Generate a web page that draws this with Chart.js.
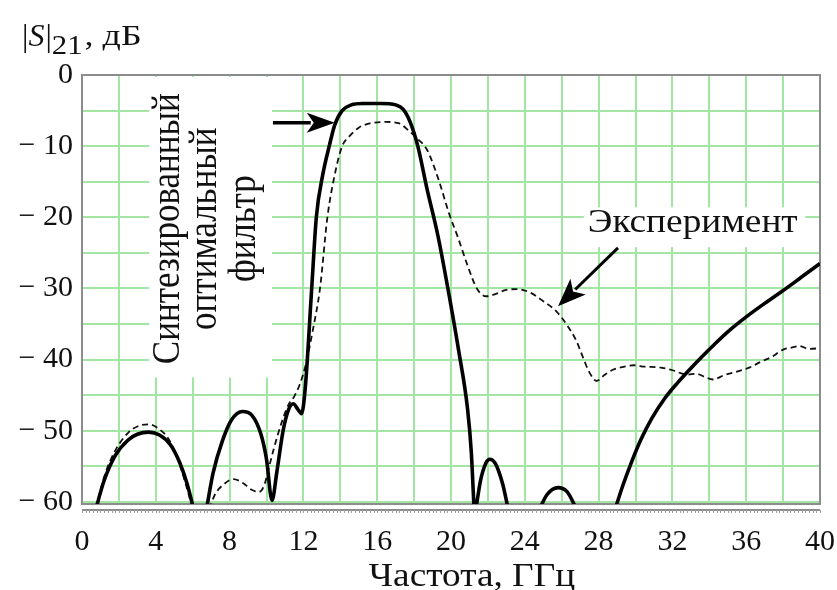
<!DOCTYPE html>
<html>
<head>
<meta charset="utf-8">
<script src="https://cdn.jsdelivr.net/npm/chart.js@4.4.1/dist/chart.umd.min.js"></script>
<style>
  body { margin: 0; background: #fff; }
  canvas { display: block; }
</style>
</head>
<body>
<canvas id="grafica" width="837" height="590"></canvas>
<script>
// синтезированный фильтр (сплошная)
const frecSint = [0.75, 1.2, 1.8, 2.5, 3.0, 3.6, 4.2, 4.8, 5.3, 5.7, 6.05, 6.4,
  6.75, 7.1, 7.6, 8.1, 8.7, 9.2, 9.7, 10.0, 10.3, 10.55, 10.9, 11.2, 11.45, 11.7, 11.9,
  12.1, 12.45, 12.7, 13.05, 13.4, 13.7, 14.1, 14.6, 15.2, 16.2, 17.0, 17.4, 17.8,
  18.2, 18.7, 19.3, 19.9, 20.4, 20.9, 21.1, 21.25, 21.3,
  21.35, 21.6, 21.9, 22.1, 22.4, 22.8, 23.1, 24.0,
  24.8, 25.2, 25.8, 26.3, 26.8, 27.8,
  28.9, 29.3, 29.8, 30.3, 30.9, 31.6, 32.3, 32.9, 33.6, 34.3, 35.0, 36.0, 37.0, 38.0, 39.0, 40.0];
const valSint = [-61, -57, -53.5, -51.3, -50.5, -50.2, -50.6, -52, -54.5, -57.5, -61, null,
  -61, -56, -51.5, -48.5, -47.3, -47.8, -50.5, -54, -59.8, -56, -50, -47, -46.2, -47, -47.6,
  -44, -30, -20, -14, -10, -7, -5, -4.2, -4.0, -4.0, -4.2, -4.8, -6.7,
  -10, -16, -22.7, -31, -38.5, -47, -53, -61, null,
  -61, -57, -54.5, -54, -54.6, -57.5, -61, null,
  -61, -59, -58, -58.6, -61, null,
  -61, -57.8, -54.3, -51.2, -48.2, -45.4, -43.2, -41.5, -39.6, -37.8, -36.1, -34, -32.1, -30.3, -28.4, -26.5];

// эксперимент (пунктир)
const frecExp = [0.75, 1.2, 1.8, 2.5, 3.0, 3.6, 4.2, 4.7, 5.2, 5.6, 6.0, 6.5,
  6.9, 7.2, 7.7, 8.2, 8.7, 9.2, 9.6, 9.9, 10.1, 10.4, 10.8, 11.2, 11.5, 11.8, 12.1,
  12.5, 12.9, 13.3, 13.7, 14.1, 14.5, 15.0, 15.6, 16.5, 17.2, 17.7, 18.2, 18.7, 19.3,
  19.9, 20.4, 20.9, 21.4, 21.9, 22.4, 23.0, 23.6, 24.3, 25.0, 25.7, 26.3, 26.8, 27.2,
  27.5, 27.9, 28.3, 28.8, 29.4, 29.9, 30.5, 31.3, 32.0, 32.8, 33.3, 33.8, 34.2, 34.8,
  35.5, 36.2, 36.8, 37.4, 38.0, 38.5, 38.9, 39.4, 40.0];
const valExp = [-61, -56.5, -52.8, -50.3, -49.4, -49.1, -49.8, -51.2, -54, -57.3, -61, null,
  -61, -59, -57.5, -56.8, -57.3, -58.3, -58.6, -57.5, -55.5, -52.5, -49, -46.3, -45.2, -43.5, -41,
  -36, -30, -20, -14, -10, -8.6, -7.4, -6.8, -6.6, -6.8, -7.8, -9, -10.5, -14.5,
  -19.5, -23, -26.8, -30, -31.1, -30.8, -30.2, -30.1, -30.6, -31.8, -33.2, -35.2, -37.4, -40,
  -41.8, -43, -42.2, -41.4, -41, -40.8, -41, -41.1, -41.5, -42.1, -42, -42.5, -42.8, -42.2,
  -41.7, -41.1, -40.3, -39.6, -38.6, -38.3, -38.1, -38.5, -38.4];

const ticksX = [0, 2, 4, 6, 8, 10, 12, 14, 16, 18, 20, 22, 24, 26, 28, 30, 32, 34, 36, 38, 40];
const ticksY = [0, -5, -10, -15, -20, -25, -30, -35, -40, -45, -50, -55, -60];

const fuente = "'Liberation Serif', 'Times New Roman', serif";

function puntos(fs, vs) {
  return fs.map((f, i) => ({ x: f, y: vs[i] }));
}

function flecha(ctx, x1, y1, x2, y2, largo, ancho) {
  const ang = Math.atan2(y2 - y1, x2 - x1);
  const bx = x2 - largo * Math.cos(ang);
  const by = y2 - largo * Math.sin(ang);
  ctx.beginPath();
  ctx.moveTo(x1, y1);
  ctx.lineTo(bx + 4 * Math.cos(ang), by + 4 * Math.sin(ang));
  ctx.stroke();
  ctx.beginPath();
  ctx.moveTo(x2, y2);
  ctx.lineTo(bx + ancho * Math.sin(ang), by - ancho * Math.cos(ang));
  ctx.lineTo(bx + largo * 0.25 * Math.cos(ang), by + largo * 0.25 * Math.sin(ang));
  ctx.lineTo(bx - ancho * Math.sin(ang), by + ancho * Math.cos(ang));
  ctx.closePath();
  ctx.fill();
}

// текст, растянутый по горизонтали
function texto(ctx, t, x, y, sx) {
  ctx.save();
  ctx.translate(x, y);
  ctx.scale(sx, 1);
  ctx.fillText(t, 0, 0);
  ctx.restore();
}

const anotaciones = {
  id: "anotaciones",
  beforeDatasetsDraw(chart) {
    const { ctx, chartArea: a, scales: { x, y } } = chart;
    ctx.save();
    // белые подложки под подписи
    ctx.fillStyle = "#fff";
    ctx.fillRect(x.getPixelForValue(3.65), a.top + 2, x.getPixelForValue(10.3) - x.getPixelForValue(3.65), y.getPixelForValue(-42.5) - a.top - 2);
    ctx.fillRect(x.getPixelForValue(27.2), y.getPixelForValue(-18.6), x.getPixelForValue(39.2) - x.getPixelForValue(27.2), y.getPixelForValue(-24.2) - y.getPixelForValue(-18.6));

    // рамка
    ctx.strokeStyle = "#8c8c8c";
    ctx.lineWidth = 2;
    ctx.strokeRect(a.left, a.top, a.right - a.left, a.bottom - a.top);
    // нижняя шкала с мелкими делениями
    ctx.beginPath();
    ctx.moveTo(a.left, a.bottom + 6);
    ctx.lineTo(a.right, a.bottom + 6);
    ctx.stroke();
    ctx.lineWidth = 1;
    ctx.strokeStyle = "#a0a0a0";
    ctx.beginPath();
    for (let f = 0; f <= 40.001; f += 0.2) {
      const px = Math.round(x.getPixelForValue(f)) + 0.5;
      ctx.moveTo(px, a.bottom + 6);
      ctx.lineTo(px, a.bottom + 9);
    }
    ctx.stroke();

    // вертикальная подпись
    ctx.fillStyle = "#111";
    ctx.font = "35px " + fuente;
    ctx.textAlign = "center";
    ctx.textBaseline = "middle";
    const cx = x.getPixelForValue(6.68);
    const cy = y.getPixelForValue(-21.6);
    ctx.translate(cx, cy);
    ctx.rotate(-Math.PI / 2);
    ctx.scale(1, 1.12);
    ctx.fillText("Синтезированный", 0, -33);
    ctx.fillText("оптимальный", 0, 0);
    ctx.fillText("фильтр", 0, 35);
    ctx.restore();

    ctx.save();
    ctx.fillStyle = "#111";
    ctx.font = "33px " + fuente;
    ctx.textAlign = "center";
    ctx.textBaseline = "middle";
    texto(ctx, "Эксперимент", x.getPixelForValue(33.1), y.getPixelForValue(-20.9), 1.13);
    ctx.restore();
  },
  afterDatasetsDraw(chart) {
    const { ctx, scales: { x, y } } = chart;
    ctx.save();
    ctx.strokeStyle = "#000";
    ctx.fillStyle = "#000";
    ctx.lineWidth = 3.5;
    flecha(ctx, x.getPixelForValue(10.35), y.getPixelForValue(-6.7), x.getPixelForValue(13.7), y.getPixelForValue(-6.7), 28, 10);
    ctx.lineWidth = 3;
    flecha(ctx, x.getPixelForValue(29.05), y.getPixelForValue(-24.3), x.getPixelForValue(25.8), y.getPixelForValue(-32.5), 28, 11);
    ctx.restore();
  },
  afterDraw(chart) {
    const { ctx } = chart;
    ctx.save();
    ctx.fillStyle = "#111";
    ctx.textBaseline = "alphabetic";
    ctx.textAlign = "left";
    // |S|21, дБ
    let px = 22;
    ctx.font = "32px " + fuente;
    ctx.fillText("|", px, 46); px += ctx.measureText("|").width;
    ctx.font = "italic 32px " + fuente;
    ctx.fillText("S", px, 46); px += ctx.measureText("S").width + 1;
    ctx.font = "32px " + fuente;
    ctx.fillText("|", px, 46); px += ctx.measureText("|").width;
    ctx.font = "28px " + fuente;
    texto(ctx, "21", px, 54, 1.1); px += ctx.measureText("21").width * 1.1 + 2;
    ctx.font = "30px " + fuente;
    texto(ctx, ", дБ", px, 45, 1.2);
    // ось частот
    ctx.textAlign = "center";
    ctx.font = "33px " + fuente;
    texto(ctx, "Частота, ГГц", 472, 586, 1.13);
    ctx.restore();
  }
};

new Chart(document.getElementById("grafica"), {
  type: "line",
  data: {
    datasets: [
      {
        label: "Синтезированный оптимальный фильтр",
        data: puntos(frecSint, valSint),
        borderColor: "#000",
        borderWidth: 3.6,
        pointRadius: 0,
        cubicInterpolationMode: "monotone",
        spanGaps: false
      },
      {
        label: "Эксперимент",
        data: puntos(frecExp, valExp),
        borderColor: "#111",
        borderWidth: 1.8,
        borderDash: [6, 4],
        pointRadius: 0,
        cubicInterpolationMode: "monotone",
        spanGaps: false
      }
    ]
  },
  options: {
    responsive: false,
    animation: false,
    layout: { padding: { top: 75, right: 17, left: 0, bottom: 0 } },
    plugins: {
      legend: { display: false },
      tooltip: { enabled: false }
    },
    scales: {
      x: {
        type: "linear",
        min: 0,
        max: 40,
        afterBuildTicks: (s) => { s.ticks = ticksX.map(v => ({ value: v })); },
        afterFit: (s) => { s.height = 86; s.paddingLeft = 0; s.paddingRight = 0; },
        grid: { color: "#a3e6a3", lineWidth: 2, drawTicks: false },
        border: { display: false },
        ticks: {
          autoSkip: false,
          maxRotation: 0,
          padding: 20,
          color: "#111",
          font: { family: fuente, size: 30 },
          callback: (v) => (v % 4 === 0 ? String(v) : "")
        }
      },
      y: {
        type: "linear",
        min: -60.3,
        max: 0,
        afterBuildTicks: (s) => { s.ticks = ticksY.map(v => ({ value: v })); },
        afterFit: (s) => { s.width = 82; s.paddingTop = 0; s.paddingBottom = 0; },
        grid: { color: "#a3e6a3", lineWidth: 2, drawTicks: false },
        border: { display: false },
        ticks: {
          autoSkip: false,
          padding: 9,
          color: "#111",
          font: { family: fuente, size: 30 },
          callback: (v) => (v % 10 === 0 ? (v === 0 ? "0" : "\u2212 " + Math.abs(v)) : "")
        }
      }
    }
  },
  plugins: [anotaciones]
});
</script>
</body>
</html>
